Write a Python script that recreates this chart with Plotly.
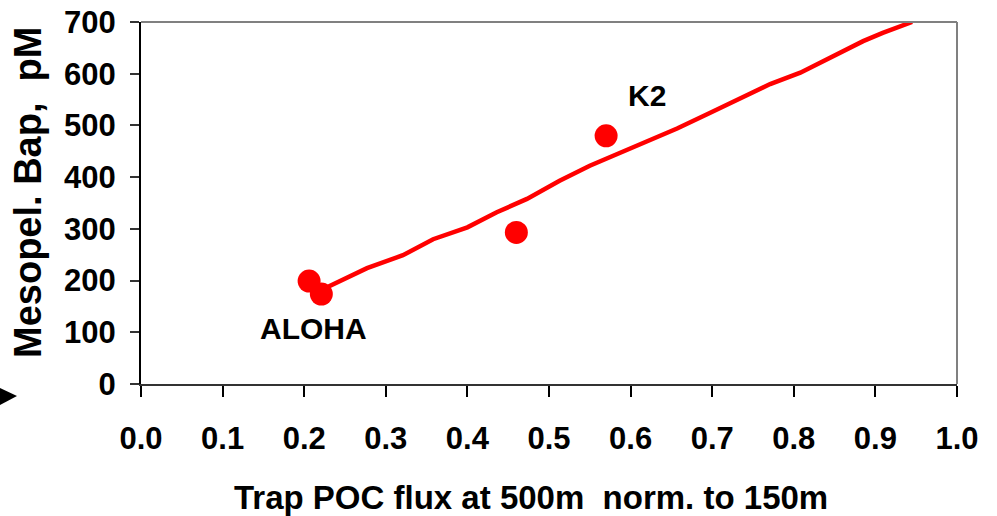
import plotly.graph_objects as go

# Observed stations
station_x = [0.206, 0.221, 0.460, 0.570]
station_y = [199, 174, 293, 480]
station_labels = ["ALOHA", "K2"]
label_x = [0.212, 0.620]
label_y = [108, 557]

# Model curve
curve_x = [0.228, 0.277, 0.321, 0.358, 0.400, 0.436, 0.473, 0.513, 0.550, 0.587,
           0.624, 0.657, 0.697, 0.734, 0.771, 0.808, 0.848, 0.885, 0.909, 0.945]
curve_y = [187, 224, 249, 280, 303, 332, 358, 393, 422, 447,
           474, 494, 524, 551, 580, 602, 634, 663, 679, 700]

x_ticks = [0.0, 0.1, 0.2, 0.3, 0.4, 0.5, 0.6, 0.7, 0.8, 0.9, 1.0]
x_ticklabels = ["0.0", "0.1", "0.2", "0.3", "0.4", "0.5", "0.6", "0.7", "0.8", "0.9", "1.0"]
y_ticks = [0, 100, 200, 300, 400, 500, 600, 700]
y_ticklabels = ["0", "100", "200", "300", "400", "500", "600", "700"]

x_title = "Trap POC flux at 500m&nbsp; norm. to 150m"
y_title = "Mesopel. Bap,&nbsp; pM"

FONT = "Liberation Sans, Arial, sans-serif"
W, H = 997, 516
PLOT_L, PLOT_R, PLOT_T, PLOT_B = 141, 957, 22, 384  # screen pixels
L, T = PLOT_L, PLOT_T
PW, PH = PLOT_R - PLOT_L, PLOT_B - PLOT_T
R, B = W - L - PW, H - T - PH


def px_x(px):
    return (px - PLOT_L) / PW


def px_y(py):
    return (PLOT_B - py) / PH


fig = go.Figure()
fig.add_trace(go.Scatter(x=curve_x, y=curve_y, mode="lines",
                         line=dict(color="#ff0000", width=4.5), showlegend=False))
fig.add_trace(go.Scatter(x=station_x, y=station_y, mode="markers",
                         marker=dict(color="#ff0000", size=23), showlegend=False))

for t, lx, ly in zip(station_labels, label_x, label_y):
    fig.add_annotation(x=lx, y=ly, text="<b>%s</b>" % t, showarrow=False,
                       font=dict(family=FONT, size=30, color="black"))

# axis titles
fig.add_annotation(xref="paper", yref="paper", x=px_x(531), y=px_y(497),
                   text="<b>%s</b>" % x_title, showarrow=False,
                   xanchor="center", yanchor="middle",
                   font=dict(family=FONT, size=33, color="black"))
fig.add_annotation(xref="paper", yref="paper", x=px_x(28), y=px_y(193),
                   text="<b>%s</b>" % y_title, showarrow=False, textangle=-90,
                   xanchor="center", yanchor="middle",
                   font=dict(family=FONT, size=38, color="black"))

fig.update_layout(
    width=W, height=H,
    margin=dict(l=L, r=R, t=T, b=B, autoexpand=False),
    plot_bgcolor="white", paper_bgcolor="white",
    font=dict(family=FONT, color="black"),
    xaxis=dict(range=[0, 1.0], tickvals=x_ticks, ticktext=x_ticklabels,
               showgrid=False, zeroline=False, showline=True, linecolor="#333333",
               linewidth=2, ticks="outside", ticklen=11, tickwidth=1.5, tickcolor="black",
               ticklabelstandoff=15, automargin=False, ticklabeloverflow="allow",
               tickfont=dict(family=FONT, size=31, color="black", weight="bold")),
    yaxis=dict(range=[0, 700], tickvals=y_ticks, ticktext=y_ticklabels,
               showgrid=False, zeroline=False, showline=True, linecolor="black",
               linewidth=2, ticks="outside", ticklen=9, tickwidth=1.5, tickcolor="#333333",
               ticklabelstandoff=8, automargin=False, ticklabeloverflow="allow",
               tickfont=dict(family=FONT, size=31, color="black", weight="bold")),
    shapes=[
        dict(type="line", xref="paper", yref="paper", x0=0, x1=1, y0=1, y1=1,
             line=dict(color="#808080", width=2)),
        dict(type="line", xref="paper", yref="paper", x0=1, x1=1, y0=0, y1=1,
             line=dict(color="#808080", width=2)),
        dict(type="path", xref="paper", yref="paper",
             path="M %f,%f L %f,%f L %f,%f Z" % (px_x(0), px_y(388), px_x(17), px_y(396),
                                                 px_x(0), px_y(405)),
             fillcolor="black", line=dict(width=0)),
    ],
)

fig.write_html("out.html", config={"displayModeBar": False},
               post_script="document.body.style.margin='0';document.body.style.overflow='hidden';")
